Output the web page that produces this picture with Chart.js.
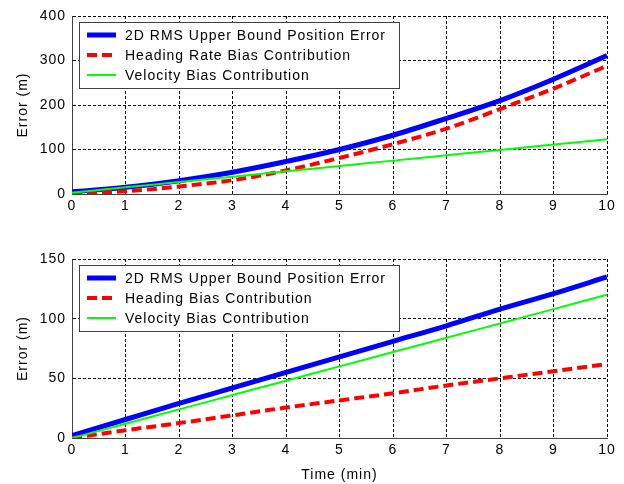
<!DOCTYPE html>
<html>
<head>
<meta charset="utf-8">
<script src="https://cdn.jsdelivr.net/npm/chart.js@4.4.0/dist/chart.umd.min.js"></script>
<style>
  html, body { margin: 0; padding: 0; background: #ffffff; }
  .panel { position: absolute; left: 0; width: 624px; }
  #topPanel { top: 0; height: 240px; }
  #bottomPanel { top: 240px; height: 244px; }
</style>
</head>
<body>
<div class="panel" id="topPanel"><canvas id="topChart"></canvas></div>
<div class="panel" id="bottomPanel"><canvas id="bottomChart"></canvas></div>
<script>
// Time axis (min)
const timeMin = [0, 1, 2, 3, 4, 5, 6, 7, 8, 9, 10];

// Top plot: heading rate bias case
const topRms = [5, 15, 30, 49, 73, 100, 132, 170, 210, 258, 311];
const topHeadingRate = [1, 6, 17, 31, 53, 81, 112, 147, 191, 237, 288];
const topVelocity = [3, 15, 27, 39, 51, 63, 75, 87, 99, 111, 123];

// Bottom plot: heading bias case
const bottomRms = [2, 15.5, 29, 42, 55, 68, 81, 94, 108, 121, 135];
const bottomHeading = [0, 6.5, 12.5, 19, 25.5, 31.5, 37.5, 44, 50, 56, 62];
const bottomVelocity = [0, 12, 24, 36, 48, 60, 72, 84, 96, 108, 120];

// Tick labels
const timeTicks = [0, 1, 2, 3, 4, 5, 6, 7, 8, 9, 10];
const topErrorTicks = [0, 100, 200, 300, 400];
const bottomErrorTicks = [0, 50, 100, 150];

const FONT = { family: "'Liberation Sans', Arial, sans-serif", size: 14 };
const LETTER_SPACING = "1px"; // old MATLAB bitmap fonts are wide

// Build a dataset list from the arrays
function makeDatasets(rms, other, velocity, otherLabel) {
  const pts = (arr) => timeMin.map((t, i) => ({ x: t, y: arr[i] }));
  return [
    {
      label: "2D RMS Upper Bound Position Error",
      data: pts(rms),
      borderColor: "#0000ff",
      borderWidth: 5,
      order: 2,
    },
    {
      label: otherLabel,
      data: pts(other),
      borderColor: "#ff0000",
      borderWidth: 4,
      borderDash: [10, 5],
      order: 1,
    },
    {
      label: "Velocity Bias Contribution",
      data: pts(velocity),
      borderColor: "#00ff00",
      borderWidth: 2,
      order: 0,
    },
  ];
}

// Apply letter spacing before text gets measured and drawn
const wideText = {
  id: "wideText",
  beforeLayout(chart) {
    chart.ctx.letterSpacing = LETTER_SPACING;
  },
  beforeDraw(chart) {
    chart.ctx.letterSpacing = LETTER_SPACING;
  },
};

// Legend box drawn inside the plot area (MATLAB style)
const insideLegend = {
  id: "insideLegend",
  afterDraw(chart) {
    const { ctx, chartArea } = chart;
    const left = chartArea.left + 7;
    const top = chartArea.top + 6;
    const w = 320;
    const h = 66;

    ctx.save();
    ctx.fillStyle = "#ffffff";
    ctx.fillRect(left, top, w, h);
    ctx.strokeStyle = "#404040";
    ctx.lineWidth = 1;
    ctx.strokeRect(left + 0.5, top + 0.5, w, h);

    ctx.font = `${FONT.size}px ${FONT.family}`;
    ctx.letterSpacing = LETTER_SPACING;
    ctx.textBaseline = "middle";
    ctx.fillStyle = "#000000";

    chart.data.datasets.forEach((ds, i) => {
      const y = top + 13 + i * 20;
      ctx.save();
      ctx.strokeStyle = ds.borderColor;
      ctx.lineWidth = ds.borderWidth;
      ctx.setLineDash(ds.borderDash || []);
      ctx.beginPath();
      ctx.moveTo(left + 8, y);
      ctx.lineTo(left + 37, y);
      ctx.stroke();
      ctx.restore();
      ctx.fillText(ds.label, left + 46, y + 1);
    });
    ctx.restore();
  },
};

function makeChart(canvasId, datasets, yMax, yTicks, showXTitle, padTop) {
  const ctx = document.getElementById(canvasId).getContext("2d");
  return new Chart(ctx, {
    type: "line",
    data: { datasets: datasets },
    options: {
      responsive: true,
      maintainAspectRatio: false,
      animation: false,
      layout: { padding: { top: padTop, right: 17, left: 0, bottom: 0 } },
      elements: {
        point: { radius: 0 },
        line: { cubicInterpolationMode: "monotone", borderCapStyle: "butt" },
      },
      plugins: {
        legend: { display: false },
        tooltip: { enabled: false },
      },
      scales: {
        x: {
          type: "linear",
          min: 0,
          max: 10,
          afterBuildTicks: (scale) => {
            scale.ticks = timeTicks.map((v) => ({ value: v }));
          },
          afterFit: (scale) => {
            scale.height = 46;
          },
          ticks: { font: FONT, color: "#000000", padding: 4, maxRotation: 0 },
          grid: { color: "#000000", lineWidth: 1, drawTicks: false },
          border: { color: "#404040", width: 1, dash: [3, 2] },
          title: {
            display: showXTitle,
            text: "Time (min)",
            font: FONT,
            color: "#000000",
            padding: { top: 7, bottom: 0 },
          },
        },
        y: {
          min: 0,
          max: yMax,
          afterBuildTicks: (scale) => {
            scale.ticks = yTicks.map((v) => ({ value: v }));
          },
          afterFit: (scale) => {
            scale.width = 72;
          },
          ticks: { font: FONT, color: "#000000", padding: 6 },
          grid: { color: "#000000", lineWidth: 1, drawTicks: false },
          border: { color: "#404040", width: 1, dash: [3, 2] },
          title: {
            display: true,
            text: "Error (m)",
            font: FONT,
            color: "#000000",
            padding: { top: 15, bottom: 0 },
          },
        },
      },
    },
    plugins: [wideText, insideLegend],
  });
}

document.addEventListener("DOMContentLoaded", function () {
  makeChart(
    "topChart",
    makeDatasets(topRms, topHeadingRate, topVelocity, "Heading Rate Bias Contribution"),
    400,
    topErrorTicks,
    false,
    16
  );
  makeChart(
    "bottomChart",
    makeDatasets(bottomRms, bottomHeading, bottomVelocity, "Heading Bias Contribution"),
    150,
    bottomErrorTicks,
    true,
    19
  );
});
</script>
</body>
</html>
